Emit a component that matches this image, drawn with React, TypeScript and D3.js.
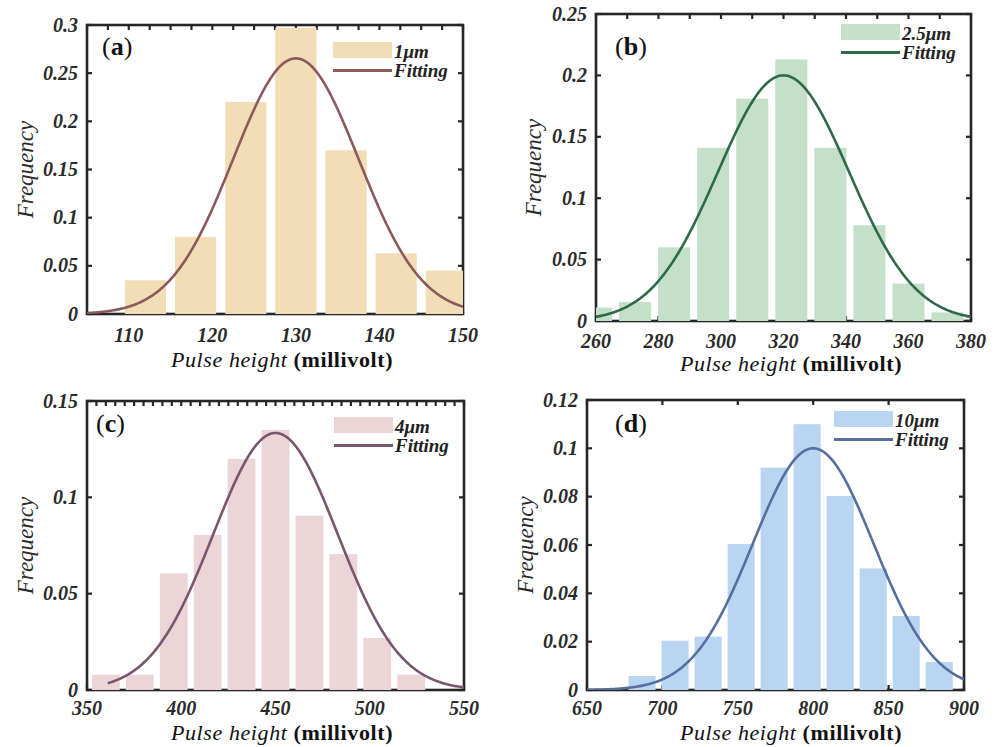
import React from "react";
import * as d3 from "d3";

// ---------- data ----------
const centersA = [112, 118, 124, 130, 136, 142, 148];
const freqA = [0.035, 0.08, 0.22, 0.297, 0.17, 0.063, 0.045];
const centersB = [260, 272.5, 285, 297.5, 310, 322.5, 335, 347.5, 360, 372.5];
const freqB = [0.011, 0.0155, 0.06, 0.141, 0.181, 0.213, 0.141, 0.078, 0.0305, 0.007];
const centersC = [360, 378, 396, 414, 432, 450, 468, 486, 504, 522];
const freqC = [0.008, 0.008, 0.0605, 0.0805, 0.12, 0.135, 0.0905, 0.0705, 0.027, 0.008];
const centersD = [686.5, 708.4, 730.3, 752.2, 774.1, 796, 817.9, 839.8, 861.7, 883.6];
const freqD = [0.0058, 0.0204, 0.0221, 0.0604, 0.092, 0.11, 0.0803, 0.0503, 0.0306, 0.0116];

const binWidths = [6, 12.5, 18, 21.9];
// Gaussian fit parameters [mean, sigma, peak]
const fitMean = [130, 320, 450, 800];
const fitSigma = [7.5, 21, 33, 40];
const fitPeak = [0.2654, 0.2, 0.1334, 0.1];
const fitStart = [105, 260, 361, 650];
const fitEnd = [150, 380, 550, 900];

const xDomains = [[105, 150], [260, 380], [350, 550], [650, 900]];
const yDomains = [[0, 0.3], [0, 0.25], [0, 0.15], [0, 0.12]];
const xTicksA = [110, 120, 130, 140, 150];
const xTicksB = [260, 280, 300, 320, 340, 360, 380];
const xTicksC = [350, 400, 450, 500, 550];
const xTicksD = [650, 700, 750, 800, 850, 900];
const yTicksA = [0, 0.05, 0.1, 0.15, 0.2, 0.25, 0.3];
const yTicksB = [0, 0.05, 0.1, 0.15, 0.2, 0.25];
const yTicksC = [0, 0.05, 0.1, 0.15];
const yTicksD = [0, 0.02, 0.04, 0.06, 0.08, 0.1, 0.12];
const topTickSteps = [2.5, 10, 5, 50];
const seriesNames = ["1μm", "2.5μm", "4μm", "10μm"];
const panelLetters = ["a", "b", "c", "d"];

// ---------- styles / layout ----------
const barColors = ["#F2DDB6", "#C4E0C9", "#ECD5D6", "#BAD5F2"];
const lineColors = ["#8C5A5C", "#2F6A48", "#78566F", "#56709E"];
const FONT = "'Liberation Serif', 'Times New Roman', serif";
const FRAME = "#262626";

const layouts = [
  { l: 87, r: 463, t: 25, b: 314, legTop: 17, lab: [15, 30], titleX: 282, yLabX: 33, tickDy: 28, titleDy: 53 },
  { l: 596, r: 971, t: 14, b: 321, legTop: 10, lab: [19, 41], titleX: 791, yLabX: 541, tickDy: 27, titleDy: 50 },
  { l: 87, r: 464, t: 401, b: 690, legTop: 16, lab: [9, 31], titleX: 282, yLabX: 33, tickDy: 25, titleDy: 50 },
  { l: 587, r: 964, t: 400, b: 690, legTop: 11, lab: [28, 32], titleX: 791, yLabX: 533, tickDy: 25, titleDy: 50 },
];

const centers = [centersA, centersB, centersC, centersD];
const freqs = [freqA, freqB, freqC, freqD];
const xTicks = [xTicksA, xTicksB, xTicksC, xTicksD];
const yTicks = [yTicksA, yTicksB, yTicksC, yTicksD];

function fmt(v: number) {
  return String(+v.toFixed(4));
}

function Panel({ i }: { i: number }) {
  const L = layouts[i];
  const x = d3.scaleLinear().domain(xDomains[i]).range([L.l, L.r]);
  const y = d3.scaleLinear().domain(yDomains[i]).range([L.b, L.t]);
  const bw = binWidths[i] * 0.82;
  const [x0, x1] = xDomains[i];
  const topTicks = d3.range(x0, x1 + 1e-9, topTickSteps[i]);
  const xs = d3.range(fitStart[i], fitEnd[i] + 1e-9, (fitEnd[i] - fitStart[i]) / 300);
  const line = d3
    .line<number>()
    .x((v) => x(v))
    .y((v) => y(fitPeak[i] * Math.exp(-((v - fitMean[i]) ** 2) / (2 * fitSigma[i] ** 2))))
    .curve(d3.curveLinear);
  const clipId = `clip${i}`;
  const tl = 5;
  const legX = L.r - 130;
  const legY = L.t + L.legTop;
  return (
    <g>
      <defs>
        <clipPath id={clipId}>
          <rect x={L.l} y={L.t - 2} width={L.r - L.l} height={L.b - L.t + 2} />
        </clipPath>
      </defs>
      {/* frame */}
      <rect x={L.l} y={L.t} width={L.r - L.l} height={L.b - L.t} fill="none" stroke={FRAME} strokeWidth={2.6} />
      {/* ticks */}
      {xTicks[i].map((v) => (
        <line key={"xb" + v} x1={x(v)} x2={x(v)} y1={L.b} y2={L.b - tl} stroke={FRAME} strokeWidth={2.2} />
      ))}
      {topTicks.map((v) => (
        <line key={"xt" + v} x1={x(v)} x2={x(v)} y1={L.t} y2={L.t + tl} stroke={FRAME} strokeWidth={2.2} />
      ))}
      {yTicks[i].map((v) => (
        <g key={"y" + v}>
          <line x1={L.l} x2={L.l + tl} y1={y(v)} y2={y(v)} stroke={FRAME} strokeWidth={2.2} />
          <line x1={L.r} x2={L.r - tl} y1={y(v)} y2={y(v)} stroke={FRAME} strokeWidth={2.2} />
        </g>
      ))}
      {/* bars */}
      <g clipPath={`url(#${clipId})`}>
        {centers[i].map((c, k) => (
          <rect
            key={k}
            x={x(c - bw / 2)}
            width={x(c + bw / 2) - x(c - bw / 2)}
            y={y(freqs[i][k])}
            height={L.b - y(freqs[i][k])}
            fill={barColors[i]}
          />
        ))}
        <path d={line(xs) || ""} fill="none" stroke={lineColors[i]} strokeWidth={2.6} />
      </g>
      {/* tick labels */}
      {xTicks[i].map((v) => (
        <text key={"xl" + v} x={x(v)} y={L.b + L.tickDy} textAnchor="middle" fontFamily={FONT} fontStyle="italic" fontWeight="bold" fontSize={20} fill="#2a2a2a">
          {fmt(v)}
        </text>
      ))}
      {yTicks[i].map((v) => (
        <text key={"yl" + v} x={L.l - 9} y={y(v) + 6.5} textAnchor="end" fontFamily={FONT} fontStyle="italic" fontWeight="bold" fontSize={20} fill="#2a2a2a">
          {fmt(v)}
        </text>
      ))}
      {/* axis titles */}
      <text x={L.titleX} y={L.b + L.titleDy} textAnchor="middle" fontFamily={FONT} fontSize={22} letterSpacing={0.6} fill="#111">
        <tspan fontStyle="italic">Pulse height </tspan>
        <tspan fontWeight="bold">(millivolt)</tspan>
      </text>
      <text
        transform={`translate(${L.yLabX},${(L.t + L.b) / 2}) rotate(-90)`}
        textAnchor="middle"
        fontFamily={FONT}
        fontStyle="italic"
        fontSize={23}
        fill="#2a2a2a"
      >
        Frequency
      </text>
      {/* panel label */}
      <text x={L.l + L.lab[0]} y={L.t + L.lab[1]} fontFamily={FONT} fontSize={26} fill="#111">
        (<tspan fontWeight="bold">{panelLetters[i]}</tspan>)
      </text>
      {/* legend */}
      <rect x={legX} y={legY} width={59} height={16} fill={barColors[i]} />
      <line x1={legX} x2={legX + 59} y1={legY + 28.5} y2={legY + 28.5} stroke={lineColors[i]} strokeWidth={3} />
      <text x={legX + 61} y={legY + 16} fontFamily={FONT} fontStyle="italic" fontWeight="bold" fontSize={19} fill="#222">
        {seriesNames[i]}
      </text>
      <text x={legX + 61} y={legY + 35} fontFamily={FONT} fontStyle="italic" fontWeight="bold" fontSize={19} fill="#222">
        Fitting
      </text>
    </g>
  );
}

export default function App() {
  return (
    <svg
      width={999}
      height={747}
      viewBox="0 0 999 747"
      style={{ position: "absolute", left: 0, top: 0, background: "#fff" }}
    >
      <rect width={999} height={747} fill="#fff" />
      {[0, 1, 2, 3].map((i) => (
        <Panel key={i} i={i} />
      ))}
    </svg>
  );
}
